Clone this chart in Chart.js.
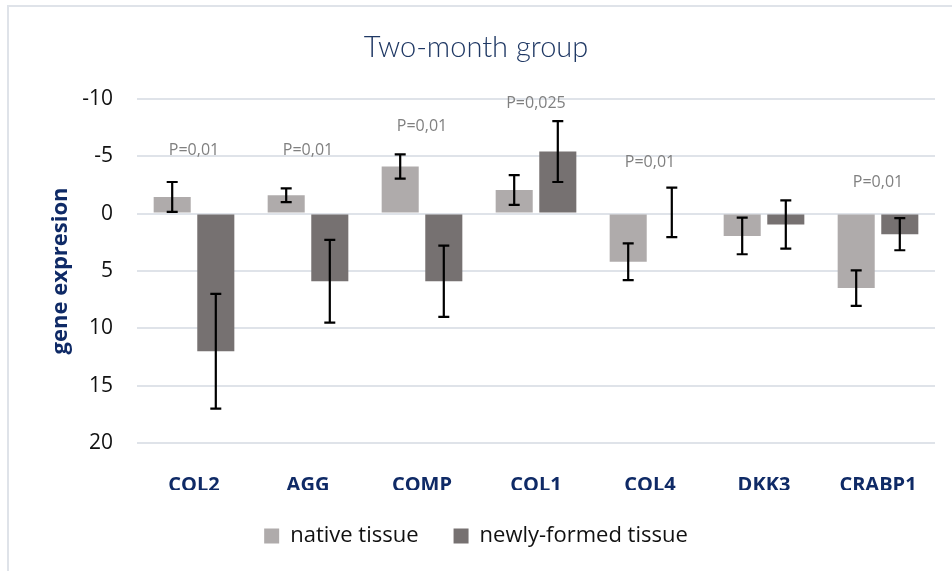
<!DOCTYPE html>
<html>
<head>
<meta charset="utf-8">
<script src="https://cdn.jsdelivr.net/npm/chart.js@4"></script>
<style>
  body { margin: 0; background: #fff; }
  #wrap { position: relative; width: 952px; height: 571px; }
  #frame { position: absolute; left: 7px; top: 5px; right: -10px; bottom: -10px;
           border-left: 2px solid #dfe3e9; border-top: 2px solid #dfe3e9; pointer-events: none; }
</style>
</head>
<body>
<div id="wrap">
  <canvas id="chart"></canvas>
  <div id="frame"></div>
</div>
<script>
'use strict';

// chart data
const genes = ['COL2', 'AGG', 'COMP', 'COL1', 'COL4', 'DKK3', 'CRABP1'];
const nativeValues = [-1.45, -1.6, -4.1, -2.05, 4.2, 1.95, 6.5];
const nativeErrors = [1.3, 0.6, 1.05, 1.3, 1.6, 1.6, 1.55];
const newlyValues = [12.0, 5.9, 5.9, -5.4, -0.1, 0.95, 1.8];
const newlyErrors = [5.0, 3.6, 3.1, 2.65, 2.15, 2.1, 1.4];
const pLabels = ['P=0,01', 'P=0,01', 'P=0,01', 'P=0,025', 'P=0,01', '', 'P=0,01'];
const pLevels = [-5.5, -5.5, -7.6, -9.6, -4.45, 0, -2.7];
const yTicks = [-10, -5, 0, 5, 10, 15, 20];

const navy = '#0f2a66';

// legend items are spaced wide apart, but the legend box itself stays short
const legendHeight = {
  id: 'legendHeight',
  beforeInit(chart) {
    const legend = chart.legend;
    const origFit = legend.fit;
    legend.fit = function() {
      origFit.call(this);
      this.height = 81;
    };
  }
};

// draws the black error bars on each bar
const errorBars = {
  id: 'errorBars',
  afterDatasetsDraw(chart) {
    const ctx = chart.ctx;
    const yScale = chart.scales.y;
    const errs = [nativeErrors, newlyErrors];
    ctx.save();
    ctx.strokeStyle = '#000';
    ctx.lineWidth = 2.2;
    chart.data.datasets.forEach((ds, i) => {
      chart.getDatasetMeta(i).data.forEach((bar, j) => {
        let v = ds.data[j];
        let e = errs[i][j];
        let y1 = yScale.getPixelForValue(v - e);
        let y2 = yScale.getPixelForValue(v + e);
        ctx.beginPath();
        ctx.moveTo(bar.x, y1);
        ctx.lineTo(bar.x, y2);
        ctx.moveTo(bar.x - 5.5, y1);
        ctx.lineTo(bar.x + 5.5, y1);
        ctx.moveTo(bar.x - 5.5, y2);
        ctx.lineTo(bar.x + 5.5, y2);
        ctx.stroke();
      });
    });
    ctx.restore();
  }
};

// p value text above each gene
const pValueText = {
  id: 'pValueText',
  afterDatasetsDraw(chart) {
    const ctx = chart.ctx;
    ctx.save();
    ctx.fillStyle = '#808080';
    ctx.font = '16px "Open Sans", sans-serif';
    ctx.textAlign = 'center';
    ctx.textBaseline = 'middle';
    pLabels.forEach((txt, i) => {
      if (!txt) return;
      ctx.fillText(txt, chart.scales.x.getPixelForValue(i), chart.scales.y.getPixelForValue(pLevels[i]));
    });
    ctx.restore();
  }
};

const canvasEl = document.getElementById('chart');

new Chart(canvasEl, {
  type: 'bar',
  data: {
    labels: genes,
    datasets: [{
      label: 'native tissue',
      data: nativeValues,
      backgroundColor: '#afabab',
      categoryPercentage: 0.765,
      barPercentage: 0.85
    }, {
      label: 'newly-formed tissue',
      data: newlyValues,
      backgroundColor: '#767171',
      categoryPercentage: 0.765,
      barPercentage: 0.85
    }]
  },
  options: {
    responsive: true,
    maintainAspectRatio: false,
    animation: false,
    layout: { padding: { left: 17, right: 17, top: 0, bottom: 0 } },
    plugins: {
      title: {
        display: true,
        text: 'Two-month group',
        color: '#1f3864',
        font: { family: 'Lato', size: 29, weight: '300' },
        padding: { top: 30, bottom: 34 }
      },
      legend: {
        position: 'bottom',
        labels: {
          color: '#111',
          font: { family: 'Open Sans', size: 22 },
          boxWidth: 15,
          boxHeight: 15,
          padding: 35
        }
      },
      tooltip: { enabled: false }
    },
    scales: {
      x: {
        grid: { display: false },
        border: { display: false },
        ticks: {
          color: navy,
          padding: 23,
          font: { family: 'Open Sans', size: 20, weight: 'bold', lineHeight: 1.1 }
        },
        afterFit(scale) { scale.height = 47; }
      },
      y: {
        reverse: true,
        min: yTicks[0],
        max: yTicks[yTicks.length - 1],
        afterBuildTicks(scale) { scale.ticks = yTicks.map(v => ({ value: v })); },
        grid: { color: '#dfe3e9', lineWidth: 2, drawTicks: false },
        border: { display: false },
        ticks: {
          color: '#111',
          padding: 24,
          font: { family: 'Open Sans', size: 21 }
        },
        title: {
          display: true,
          text: 'gene expresion',
          color: navy,
          font: { family: 'Open Sans', size: 22, weight: 'bold' },
          padding: { top: 31, bottom: 0 }
        },
        afterFit(scale) { scale.width = 120; }
      }
    }
  },
  plugins: [legendHeight, errorBars, pValueText]
});
</script>
</body>
</html>
